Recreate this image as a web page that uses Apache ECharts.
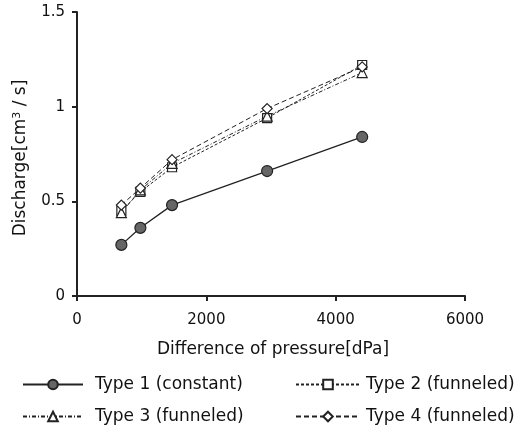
<!DOCTYPE html>
<html><head><meta charset="utf-8">
<script src="https://cdn.jsdelivr.net/npm/echarts@6/dist/echarts.min.js"></script>
<style>html,body{margin:0;padding:0;background:#fff}#c{width:529px;height:433px}</style>
</head><body><div id="c"></div>
<script>
const pressure = [686, 980, 1470, 2940, 4410];
const type1 = [0.27, 0.36, 0.48, 0.66, 0.84];
const type2 = [0.45, 0.55, 0.68, 0.94, 1.22];
const type3 = [0.44, 0.56, 0.70, 0.95, 1.18];
const type4 = [0.48, 0.57, 0.72, 0.99, 1.21];
const names = ['Type 1 (constant)', 'Type 2 (funneled)', 'Type 3 (funneled)', 'Type 4 (funneled)'];
const xTicks = [0, 2000, 4000, 6000];
const yTicks = [0, 0.5, 1, 1.5];

const FONT = 'DejaVu Sans';
const pts = v => pressure.map((x, i) => [x, v[i]]);
function ser(name, data, symbol, size, dash, fill, w) {
  return {
    name, type: 'line', data: pts(data), symbol, symbolSize: size,
    lineStyle: { color: '#222', width: w, type: dash },
    itemStyle: { color: fill, borderColor: '#222', borderWidth: 1.2 },
    emphasis: { disabled: true }, animation: false
  };
}
const chart = echarts.init(document.getElementById('c'));
chart.setOption({
  backgroundColor: '#fff',
  animation: false,
  grid: { left: 77, right: 64, top: 12, bottom: 137, containLabel: false },
  xAxis: {
    type: 'value', min: xTicks[0], max: xTicks[xTicks.length - 1], interval: 2000,
    axisLine: { show: true, lineStyle: { color: '#222', width: 2 } },
    axisTick: { show: true, inside: false, length: 5, lineStyle: { color: '#222', width: 2 } },
    axisLabel: { color: '#111', fontSize: 15, fontFamily: FONT, margin: 17,
      formatter: v => String(v) },
    splitLine: { show: false }
  },
  yAxis: {
    type: 'value', min: yTicks[0], max: yTicks[yTicks.length - 1], interval: 0.5,
    axisLine: { show: true, lineStyle: { color: '#222', width: 2 } },
    axisTick: { show: true, inside: false, length: 5, lineStyle: { color: '#222', width: 2 } },
    axisLabel: { color: '#111', fontSize: 15, fontFamily: FONT, margin: 12,
      formatter: v => String(v) },
    splitLine: { show: false }
  },
  graphic: [
    { type: 'text', x: 21, y: 158, rotation: Math.PI / 2,
      style: { text: '{a|Discharge[cm}{s|3}{a| / s]}', fill: '#111',
        rich: { a: { fontSize: 17, fontFamily: FONT, fill: '#111' },
                s: { fontSize: 11, fontFamily: FONT, fill: '#111', verticalAlign: 'top', padding: [0, 0, 8, 0] } },
        align: 'center', verticalAlign: 'middle' } },
    { type: 'text', x: 273, y: 350,
      style: { text: 'Difference of pressure[dPa]', fill: '#111', font: '17px "' + FONT + '"',
        align: 'center', verticalAlign: 'middle' } }
  ],
  legend: [
    { data: [names[0], names[2]], orient: 'vertical', left: 22, top: 376, padding: 0, itemWidth: 60, itemHeight: 12,
      itemGap: 15, textStyle: { color: '#111', fontSize: 17, fontFamily: FONT, padding: [0, 0, 0, 7] } },
    { data: [names[1], names[3]], orient: 'vertical', left: 295, top: 376, padding: 0, itemWidth: 64, itemHeight: 12,
      itemGap: 15, textStyle: { color: '#111', fontSize: 17, fontFamily: FONT, padding: [0, 0, 0, 1] } }
  ],
  series: [
    ser(names[0], type1, 'circle', 11, 'solid', '#666', 1.3),
    ser(names[1], type2, 'rect', 9, [3, 2], '#fff', 1),
    ser(names[2], type3, 'triangle', 10, [4, 2, 1, 2], '#fff', 1),
    ser(names[3], type4, 'diamond', 10, [5, 3], '#fff', 1)
  ]
});
</script></body></html>
